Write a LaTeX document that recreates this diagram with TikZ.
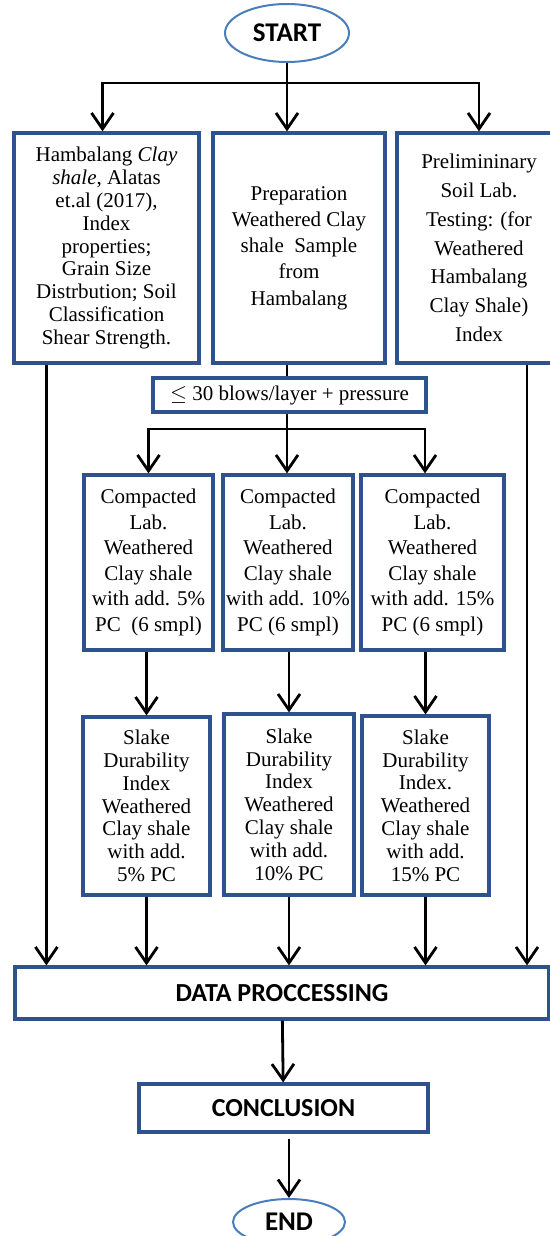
\documentclass[tikz,border=0pt]{standalone}
\usepackage{fontspec}
\setmainfont{Liberation Serif}
\newfontfamily\headfont{Carlito}
\usetikzlibrary{arrows.meta,shapes.geometric}
\definecolor{boxblue}{HTML}{2F528F}
\definecolor{ovalblue}{HTML}{4A7EBB}

\begin{document}
\begin{tikzpicture}[x=0.5pt,y=-0.5pt,>={Straight Barb[length=8pt,width=11pt]},line width=1.4pt,
  main box/.style={rectangle,draw=boxblue,line width=1.6pt,align=center,inner sep=1pt,font=\fontsize{10.5}{12.9}\selectfont},
  head box/.style={rectangle,draw=boxblue,line width=1.6pt,font=\headfont\bfseries\fontsize{13}{15}\selectfont},
  term node/.style={ellipse,draw=ovalblue,line width=1pt,inner sep=0pt,font=\headfont\bfseries\fontsize{13.5}{16}\selectfont}]
   \useasboundingbox (0,0) rectangle (550,1236);
   \node[term node,minimum width=62pt,minimum height=29pt] (n_start) at (287,33) {START};
   \node[main box,minimum width=92.5pt,minimum height=115pt,font=\fontsize{10.5}{11.4}\selectfont] (n_lit) at (106.5,248)
     {Hambalang \textit{Clay}\\ \textit{shale}, Alatas\\ et.al (2017),\\ Index\\ properties;\\ Grain Size\\ Distrbution; Soil\\ Classification\\ Shear Strength.};
   \node[main box,minimum width=86pt,minimum height=115pt,font=\fontsize{10.5}{13.1}\selectfont] (n_prep) at (299,248)
     {Preparation\\ Weathered Clay\\ shale\ \ Sample\\ from\\ Hambalang};
   \node[main box,minimum width=82pt,minimum height=115pt,font=\fontsize{10.5}{14.4}\selectfont] (n_prelim) at (479,248)
     {Prelimininary\\ Soil Lab.\\ Testing: (for\\ Weathered\\ Hambalang\\ Clay Shale)\\ Index};
   \node[main box,minimum width=136.5pt,minimum height=17pt] (n_blows) at (289.5,395)
     {$\leq$ 30 blows/layer + pressure};
   \node[main box,minimum width=64.5pt,minimum height=87.5pt,font=\fontsize{10.5}{12.8}\selectfont] (n_comp5) at (148.5,562.5)
     {Compacted\\ Lab.\\ Weathered\\ Clay shale\\ with add. 5\%\\ PC\ \ (6 smpl)};
   \node[main box,minimum width=65pt,minimum height=87.5pt,font=\fontsize{10.5}{12.8}\selectfont] (n_comp10) at (288,562.5)
     {Compacted\\ Lab.\\ Weathered\\ Clay shale\\ with add. 10\%\\ PC (6 smpl)};
   \node[main box,minimum width=71.5pt,minimum height=87.5pt,font=\fontsize{10.5}{12.8}\selectfont] (n_comp15) at (432.5,562.5)
     {Compacted\\ Lab.\\ Weathered\\ Clay shale\\ with add. 15\%\\ PC (6 smpl)};
   \node[main box,minimum width=63.5pt,minimum height=89pt,font=\fontsize{10.5}{11.4}\selectfont] (n_slake5) at (146.5,806)
     {Slake\\ Durability\\ Index\\ Weathered\\ Clay shale\\ with add.\\ 5\% PC};
   \node[main box,minimum width=65pt,minimum height=90.5pt,font=\fontsize{10.5}{11.4}\selectfont] (n_slake10) at (289,804.5)
     {Slake\\ Durability\\ Index\\ Weathered\\ Clay shale\\ with add.\\ 10\% PC};
   \node[main box,minimum width=63.5pt,minimum height=89.5pt,font=\fontsize{10.5}{11.4}\selectfont] (n_slake15) at (425.5,805.5)
     {Slake\\ Durability\\ Index.\\ Weathered\\ Clay shale\\ with add.\\ 15\% PC};
   \node[head box,minimum width=267pt,minimum height=26pt] (n_data) at (282,993) {DATA PROCCESSING};
   \node[head box,minimum width=144.5pt,minimum height=24pt] (n_concl) at (283.5,1108) {CONCLUSION};
   \node[term node,minimum width=56pt,minimum height=23pt] (n_end) at (289,1222) {END};

   \coordinate (j_top) at (287,83);
   \coordinate (j_mid) at (287,429);
   \coordinate (c_left) at ([xshift=17pt]n_lit.south west);
   \coordinate (c_right) at ([xshift=24pt]n_prelim.south);
   \draw (n_start.south) -- (j_top);
   \draw[->] (j_top) -| ([xshift=-2pt]n_lit.north);
   \draw[->] (j_top) -- (j_top |- n_prep.north);
   \draw[->] (j_top) -| (n_prelim.north);
   \draw (j_top |- n_prep.south) -- (j_top |- n_blows.north);
   \draw (j_top |- n_blows.south) -- (j_mid);
   \draw[->] (j_mid) -| (n_comp5.north);
   \draw[->] (j_mid) -- (j_mid |- n_comp10.north);
   \draw[->] (j_mid) -| ([xshift=-3.75pt]n_comp15.north);
   \foreach \i in {5,10,15} {
     \draw[->] (n_slake\i.north |- n_comp\i.south) -- (n_slake\i.north);
     \draw[->] (n_slake\i) -- (n_slake\i |- n_data.north);
   }
   \draw[->] (c_left) -- (c_left |- n_data.north);
   \draw[->] (c_right) -- (c_right |- n_data.north);
   \draw[->] (n_data) -- (n_concl);
   \draw[->,shorten <=2.5pt] (n_end.north |- n_concl.south) -- (n_end.north);
\end{tikzpicture}
\end{document}
